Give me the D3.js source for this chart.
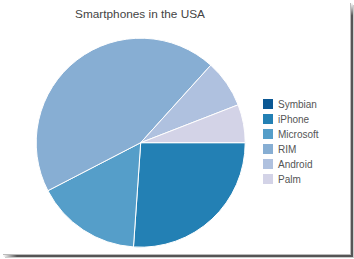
<!DOCTYPE html>
<html>
<head>
<meta charset="utf-8">
<script src="https://cdn.jsdelivr.net/npm/d3@7"></script>
<style>
  html, body { margin: 0; padding: 0; background: #fff; }
  svg { display: block; font-family: "Liberation Sans", Arial, sans-serif; }
</style>
</head>
<body>
<svg id="chart" width="354" height="259"></svg>
<script>
const categories = ['Symbian', 'iPhone', 'Microsoft', 'RIM', 'Android', 'Palm'];
const shares = [0, 26.1, 16.3, 44.3, 7.4, 5.9];
const colors = ['#0b5894', '#2380b4', '#559ec9', '#87aed3', '#afc1df', '#d3d3e7'];

const rows = categories.map((name, i) => ({ name, value: shares[i] }));
const svg = d3.select('#chart');

// drop shadow frame along right and bottom edges
const defs = svg.append('defs');
const gradV = defs.append('linearGradient').attr('id', 'fadeV').attr('x1', 0).attr('x2', 0).attr('y1', 0).attr('y2', 1);
gradV.append('stop').attr('offset', 0).attr('stop-color', '#fff');
gradV.append('stop').attr('offset', 0.05).attr('stop-color', '#555');
gradV.append('stop').attr('offset', 1).attr('stop-color', '#555');
const gradH = defs.append('linearGradient').attr('id', 'fadeH');
gradH.append('stop').attr('offset', 0).attr('stop-color', '#fff');
gradH.append('stop').attr('offset', 0.04).attr('stop-color', '#555');
gradH.append('stop').attr('offset', 1).attr('stop-color', '#555');

svg.append('rect').attr('x', 350).attr('y', 3).attr('width', 1).attr('height', 252).attr('fill', '#bbb');
svg.append('rect').attr('x', 351).attr('y', 3).attr('width', 2).attr('height', 253).attr('fill', 'url(#fadeV)');
svg.append('rect').attr('x', 353).attr('y', 5).attr('width', 1).attr('height', 252).attr('fill', '#aaa').attr('opacity', 0.6);
svg.append('rect').attr('x', 3).attr('y', 254).attr('width', 348).attr('height', 1).attr('fill', '#bbb');
svg.append('rect').attr('x', 3).attr('y', 255).attr('width', 350).attr('height', 2).attr('fill', 'url(#fadeH)');
svg.append('rect').attr('x', 5).attr('y', 257).attr('width', 349).attr('height', 1).attr('fill', '#aaa').attr('opacity', 0.6);

svg.append('text')
  .attr('x', 140).attr('y', 18)
  .attr('text-anchor', 'middle')
  .attr('font-size', 11.8)
  .attr('fill', '#444')
  .text('Smartphones in the USA');

const cx = 140.7, cy = 142.7, radius = 104.5;
const pie = d3.pie().value(d => d.value).sort(null)
  .startAngle(Math.PI / 2).endAngle(Math.PI / 2 + 2 * Math.PI);
const arc = d3.arc().innerRadius(0).outerRadius(radius);
const color = d3.scaleOrdinal().domain(categories).range(colors);

svg.append('g')
  .attr('transform', `translate(${cx},${cy})`)
  .selectAll('path')
  .data(pie(rows).filter(d => d.value > 0))
  .join('path')
  .attr('d', arc)
  .attr('fill', d => color(d.data.name))
  .attr('stroke', '#fff')
  .attr('stroke-width', 1);

const legend = svg.append('g').attr('transform', 'translate(263,99)');
const item = legend.selectAll('g')
  .data(categories)
  .join('g')
  .attr('transform', (d, i) => `translate(0,${i * 15})`);
item.append('rect').attr('width', 10).attr('height', 10).attr('fill', d => color(d));
item.append('text')
  .attr('x', 15).attr('y', 9)
  .attr('font-size', 10)
  .attr('fill', '#555')
  .text(d => d);
</script>
</body>
</html>
